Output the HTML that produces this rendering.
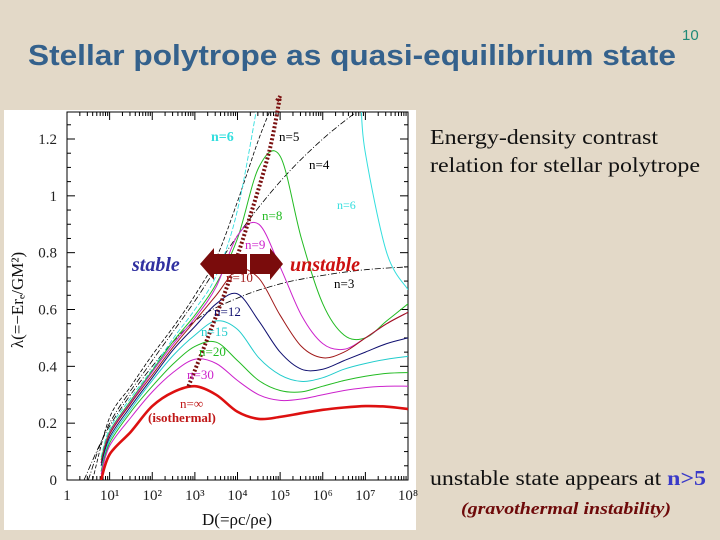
<!DOCTYPE html>
<html><head><meta charset="utf-8"><style>
html,body{margin:0;padding:0;background:#e3d9c8;}
svg{display:block}
</style></head><body>
<svg id="s" width="720" height="540" viewBox="0 0 720 540">
<rect x="0" y="0" width="720" height="540" fill="#e3d9c8"/>
<text x="682" y="40" font-family="Liberation Sans, sans-serif" font-size="15" fill="#1f8a78">10</text>
<text x="28" y="65" font-family="Liberation Sans, sans-serif" font-weight="bold" font-size="29" fill="#34618c" textLength="648" lengthAdjust="spacingAndGlyphs">Stellar polytrope as quasi-equilibrium state</text>
<text x="430" y="144" font-family="Liberation Serif, serif" font-size="21" fill="#111" textLength="228" lengthAdjust="spacingAndGlyphs">Energy-density contrast</text>
<text x="430" y="172" font-family="Liberation Serif, serif" font-size="21" fill="#111" textLength="270" lengthAdjust="spacingAndGlyphs">relation for stellar polytrope</text>
<text x="430" y="485" font-family="Liberation Serif, serif" font-size="21" fill="#111" textLength="276" lengthAdjust="spacingAndGlyphs">unstable state appears at <tspan fill="#3a3ac8" font-weight="bold">n&gt;5</tspan></text>
<text x="461" y="514" font-family="Liberation Serif, serif" font-size="17" font-weight="bold" font-style="italic" fill="#6e0a0a" textLength="210" lengthAdjust="spacingAndGlyphs">(gravothermal instability)</text>
<rect x="4" y="110" width="412" height="420" fill="#ffffff"/>
<defs><clipPath id="cp"><rect x="67" y="112" width="341" height="368"/></clipPath></defs>
<g id="axes"></g>
<g id="curves" clip-path="url(#cp)"></g>
<g id="labels"></g>
</svg>
<script>
const xGrid=[0.8,1,1.5,2,2.5,3,3.5,4,4.5,5,5.5,6,6.5,7,7.5,8];
const isoY=[0,0.09,0.17,0.26,0.31,0.33,0.3,0.24,0.215,0.222,0.235,0.247,0.255,0.26,0.258,0.25];
const n30Y=[0.02,0.12,0.22,0.31,0.38,0.425,0.41,0.35,0.3,0.28,0.285,0.3,0.315,0.325,0.33,0.33];
const n20Y=[0.03,0.13,0.24,0.33,0.41,0.47,0.485,0.42,0.35,0.315,0.31,0.33,0.35,0.365,0.375,0.378];
const n15Y=[0.03,0.14,0.25,0.35,0.44,0.51,0.56,0.53,0.43,0.37,0.347,0.36,0.39,0.41,0.425,0.435];
const n12Y=[0.05,0.15,0.26,0.36,0.46,0.54,0.62,0.655,0.56,0.45,0.39,0.39,0.42,0.45,0.48,0.5];
const n10Y=[0.06,0.16,0.27,0.37,0.47,0.56,0.65,0.74,0.71,0.58,0.47,0.43,0.45,0.5,0.55,0.59];
const n9Y=[0.06,0.165,0.275,0.38,0.48,0.57,0.68,0.86,0.9,0.75,0.58,0.48,0.46,0.5,0.55,0.59];
const n8Y=[0.07,0.17,0.28,0.385,0.49,0.58,0.69,0.85,1.1,1.14,0.85,0.62,0.51,0.5,0.56,0.62];
const n6X=[0.8,1,1.5,2,2.5,3,3.5,4,4.5];
const n6Y=[0.08,0.18,0.29,0.39,0.5,0.6,0.72,0.95,1.35];
const n6bX=[6.9,7,7.5,8];
const n6bY=[1.32,1.15,0.8,0.67];
const n5X=[0.6,1,1.5,2,2.5,3,3.5,4,4.5,4.9];
const n5Y=[0,0.22,0.33,0.44,0.54,0.65,0.78,0.98,1.2,1.35];
const n4X=[0.5,1,2,3,4,5,6,7];
const n4Y=[0,0.2,0.42,0.63,0.86,1.05,1.2,1.32];
const n3X=[0.4,1,2,3,4,5,6,7,8];
const n3Y=[0,0.19,0.4,0.56,0.64,0.69,0.72,0.74,0.75];
const stabX=[2.85,3.3,3.8,4.3,4.75,5.0];
const stabY=[0.33,0.5,0.7,0.93,1.16,1.35];
const xTickLabels=["1","10¹","10²","10³","10⁴","10⁵","10⁶","10⁷","10⁸"];
const yTicks=[0,0.2,0.4,0.6,0.8,1,1.2];
const yTickLabels=["0","0.2","0.4","0.6","0.8","1","1.2"];

const NS="http://www.w3.org/2000/svg";
const X0=67,X1=408,Y0=480,Yt=139;
const xs=v=>X0+(X1-X0)*v/8;
const ys=v=>Y0-(Y0-Yt)*v/1.2;
function mk(tag,attrs,parent){const e=document.createElementNS(NS,tag);for(const k in attrs)e.setAttribute(k,attrs[k]);parent.appendChild(e);return e;}
function smooth(X,Y){const P=X.map((x,i)=>[xs(x),ys(Y[i])]);let d='M'+P[0][0].toFixed(1)+' '+P[0][1].toFixed(1);
for(let i=0;i<P.length-1;i++){const p0=P[i-1]||P[i],p1=P[i],p2=P[i+1],p3=P[i+2]||p2;
const c1=[p1[0]+(p2[0]-p0[0])/6,p1[1]+(p2[1]-p0[1])/6],c2=[p2[0]-(p3[0]-p1[0])/6,p2[1]-(p3[1]-p1[1])/6];
d+=' C'+c1[0].toFixed(1)+' '+c1[1].toFixed(1)+' '+c2[0].toFixed(1)+' '+c2[1].toFixed(1)+' '+p2[0].toFixed(1)+' '+p2[1].toFixed(1);}return d;}
const axes=document.getElementById('axes'),curves=document.getElementById('curves'),labels=document.getElementById('labels');
let f=mk('rect',{x:X0,y:112,width:X1-X0,height:Y0-112,fill:'none',stroke:'#000','stroke-width':1},axes);


for(let d=0;d<8;d++){for(let m=1;m<10;m++){const x=xs(d+Math.log10(m));const L=m==1?8:4;
mk('line',{x1:x,x2:x,y1:Y0,y2:Y0-L,stroke:'#000'},axes);mk('line',{x1:x,x2:x,y1:112,y2:112+L,stroke:'#000'},axes);}}
for(let v=0;v<=1.3;v+=0.05){const y=ys(v);const L=Math.abs(v*5-Math.round(v*5))<1e-6?8:4;
mk('line',{x1:X0,x2:X0+L,y1:y,y2:y,stroke:'#000'},axes);mk('line',{x1:X1,x2:X1-L,y1:y,y2:y,stroke:'#000'},axes);}
xTickLabels.forEach((t,i)=>{const e=mk('text',{x:xs(i),y:500,'text-anchor':'middle','font-family':'Liberation Serif, serif','font-size':15,fill:'#222'},axes);e.textContent=t;

});
yTicks.forEach((v,i)=>{const e=mk('text',{x:57,y:ys(v)+5,'text-anchor':'end','font-family':'Liberation Serif, serif','font-size':15,fill:'#222'},axes);e.textContent=yTickLabels[i];

});
let xt=mk('text',{x:237,y:525,'text-anchor':'middle','font-family':'Liberation Serif, serif','font-size':17,fill:'#111'},axes);xt.textContent='D(=ρc/ρe)';


let yt=mk('text',{x:23,y:300,'text-anchor':'middle','font-family':'Liberation Serif, serif','font-size':17,fill:'#111',transform:'rotate(-90 23 300)'},axes);yt.textContent='λ(=−Erₑ/GM²)';


function curve(X,Y,col,w,dash,name){
const p=mk('path',{d:smooth(X,Y),fill:'none',stroke:col,'stroke-width':w,'stroke-dasharray':dash||'none','stroke-linejoin':'round'},curves);

return p;}
curve(n3X,n3Y,'#000',0.8,'6 2 1 2','curve-n3');
curve(n4X,n4Y,'#000',0.8,'6 2 1 2','curve-n4');
curve(n5X,n5Y,'#000',0.8,'4 2','curve-n5');
curve(n6X,n6Y,'#33dede',0.9,'5 2','curve-n6');
curve(n6bX,n6bY,'#33dede',1,null,'curve-n6-branch');
curve(xGrid,n8Y,'#22bb22',1,null,'curve-n8');
curve(xGrid,n9Y,'#cc22cc',1,null,'curve-n9');
curve(xGrid,n10Y,'#a01818',1,null,'curve-n10');
curve(xGrid,n12Y,'#101070',1,null,'curve-n12');
curve(xGrid,n15Y,'#22cccc',1,null,'curve-n15');
curve(xGrid,n20Y,'#22bb22',1,null,'curve-n20');
curve(xGrid,n30Y,'#cc22cc',1,null,'curve-n30');
curve(xGrid,isoY,'#dd1010',2.6,null,'curve-isothermal');
const sd=smooth(stabX,stabY)+' L 276 102';
let sl=mk('path',{d:sd,fill:'none',stroke:'#7a1010','stroke-width':4,'stroke-dasharray':'2 2'},labels);


let la=mk('path',{d:'M200 264 L214 248 L214 254 L247 254 L247 274 L214 274 L214 280 Z',fill:'#7a0c0c'},labels);


let ra=mk('path',{d:'M250 254 L270 254 L270 248 L283 264 L270 280 L270 274 L250 274 Z',fill:'#7a0c0c'},labels);


function lab(t,x,y,col,sz,name,extra){const e=mk('text',Object.assign({x:x,y:y,fill:col,'font-family':'Liberation Serif, serif','font-size':sz},extra||{}),labels);e.textContent=t;

return e;}
lab('stable',132,271,'#3030a0',20,'stable-label',{'font-style':'italic','font-weight':'bold'});
lab('unstable',290,271,'#cc1010',20,'unstable-label',{'font-style':'italic','font-weight':'bold'});
lab('n=6',211,141,'#33dede',14,'label-n6',{'font-weight':'bold'});
lab('n=5',279,141,'#000',13,'label-n5');
lab('n=4',309,169,'#000',13,'label-n4');
lab('n=6',337,209,'#33dede',12,'label-n6-right');
lab('n=8',262,220,'#22bb22',13,'label-n8');
lab('n=9',245,249,'#cc22cc',13,'label-n9');
lab('n=10',226,282,'#a01818',13,'label-n10');
lab('n=3',334,288,'#000',13,'label-n3');
lab('n=12',214,316,'#101070',13,'label-n12');
lab('n=15',201,336,'#22cccc',13,'label-n15');
lab('n=20',199,356,'#22bb22',13,'label-n20');
lab('n=30',187,379,'#cc22cc',13,'label-n30');
lab('n=∞',180,408,'#c01818',13,'label-n-inf');
lab('(isothermal)',148,422,'#c01818',13,'label-isothermal',{'font-weight':'bold'});
</script>
</body></html>
